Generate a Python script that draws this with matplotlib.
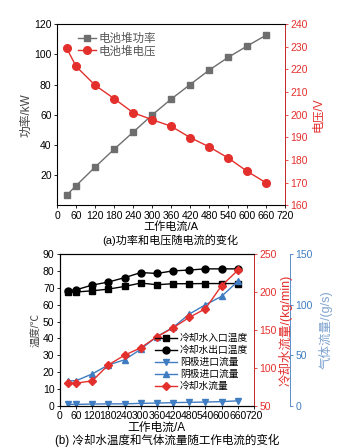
import matplotlib
matplotlib.use("Agg")
import matplotlib.pyplot as plt
import numpy as np

plt.rcParams['font.family'] = ['Liberation Sans', 'Noto Sans CJK SC']
plt.rcParams['axes.unicode_minus'] = False

RED = '#e3302d'
GRAY = '#6e6e6e'
BLUE = '#3f7cc2'

# (a) 功率和电压
current = [30, 60, 120, 180, 240, 300, 360, 420, 480, 540, 600, 660]
power = [6.6, 13, 25.3, 37.1, 48.4, 59.8, 70.3, 80, 89.5, 98, 105.5, 112.7]
voltage = [229.4, 221.3, 213, 207.1, 200.9, 197.8, 194.9, 189.9, 185.8, 180.9, 175, 169.9]

# (b) 冷却水温度和气体流量
t_in = [67.2, 67.5, 68.2, 69.2, 70.8, 72.8, 71.8, 72.4, 72.4, 72.5, 72.5, 72.5]
t_out = [68.0, 68.8, 71.6, 73.4, 76.0, 79.0, 78.5, 80.0, 80.5, 81.2, 81.2, 81.2]
anode = [1.5, 1.5, 1.8, 2.0, 2.0, 2.5, 2.8, 3.2, 3.5, 3.8, 4.2, 5.0]
cathode = [24.7, 24.9, 31.6, 40.5, 45.5, 56, 68.5, 77.5, 90.6, 99.9, 108.1, 122.9]
water = [79.9, 79.9, 83, 104, 116.8, 126.5, 141, 152.8, 166.5, 177.9, 208.2, 228.4]

xticks = list(range(0, 721, 60))

fig = plt.figure(figsize=(3.55, 4.48), dpi=100)
tfs = 7.5   # tick labels
lfs = 8.5   # axis labels

# ---- top chart
ax1 = fig.add_axes([0.161, 0.542, 0.642, 0.404])
l1, = ax1.plot(current, power, '-s', color=GRAY, ms=5, lw=1, label='电池堆功率')
ax1.set_xlim(0, 720)
ax1.set_ylim(0, 120)
ax1.set_xticks(xticks)
ax1.set_yticks([20, 40, 60, 80, 100, 120])
ax1.tick_params(labelsize=tfs, length=2.5, width=0.6, direction='out', pad=1.5)
ax1.set_ylabel('功率/kW', fontsize=lfs, color='#444444', labelpad=1)
ax1.set_xlabel('工作电流/A', fontsize=8, labelpad=0)
for s in ax1.spines.values():
    s.set_linewidth(0.6)

ax2 = ax1.twinx()
l2, = ax2.plot(current, voltage, '-o', color=RED, ms=5.5, lw=1, label='电池堆电压')
ax2.set_ylim(160, 240)
ax2.set_yticks(range(160, 241, 10))
ax2.tick_params(labelsize=tfs, length=2.5, width=0.6, colors=RED, pad=1.5)
ax2.spines['right'].set_color(RED)
ax2.spines['right'].set_linewidth(0.6)
ax2.set_ylabel('电压/V', fontsize=lfs, color=RED, labelpad=3)
ax1.legend(handles=[l1, l2], loc='upper left', bbox_to_anchor=(0.06, 0.99), frameon=False,
           fontsize=8.3, handlelength=1.6, handletextpad=0.2, labelspacing=0.05,
           borderaxespad=0.2, labelcolor='#555555')
fig.text(0.48, 0.463, '(a)功率和电压随电流的变化', ha='center', va='center', fontsize=8)

# ---- bottom chart
ax3 = fig.add_axes([0.169, 0.094, 0.546, 0.339])
h1, = ax3.plot(current, t_in, '-s', color='black', ms=5, lw=1, label='冷却水入口温度')
h2, = ax3.plot(current, t_out, '-o', color='black', ms=5, lw=1, label='冷却水出口温度')
ax3.set_xlim(0, 720)
ax3.set_ylim(0, 90)
ax3.set_xticks(xticks)
ax3.set_yticks(range(0, 91, 10))
ax3.tick_params(labelsize=tfs, length=2.5, width=0.6, pad=1.5)
ax3.set_ylabel('温度/℃', fontsize=7.5, color='#444444', labelpad=1)
ax3.set_xlabel('工作电流/A', fontsize=lfs, labelpad=0)
for s in ax3.spines.values():
    s.set_linewidth(0.6)

ax4 = ax3.twinx()
h5, = ax4.plot(current, water, '-D', color=RED, ms=4.5, lw=1, label='冷却水流量')
ax4.set_ylim(50, 250)
ax4.set_yticks(range(50, 251, 50))
ax4.tick_params(labelsize=tfs, length=2.5, width=0.6, colors=RED, pad=1.5)
ax4.spines['right'].set_color(RED)
ax4.spines['right'].set_linewidth(0.6)
ax4.set_ylabel('冷却水流量/(kg/min)', fontsize=9, color=RED)
ax4.yaxis.set_label_coords(1.13, 0.5)

ax5 = ax3.twinx()
ax5.spines['right'].set_position(('axes', 1.186))
h3, = ax5.plot(current, anode, '-v', color=BLUE, ms=5, lw=1, label='阳极进口流量')
h4, = ax5.plot(current, cathode, '-^', color=BLUE, ms=5, lw=1, label='阴极进口流量')
ax5.set_ylim(0, 150)
ax5.set_yticks(range(0, 151, 50))
ax5.tick_params(labelsize=tfs, length=2.5, width=0.6, colors=BLUE, pad=1.5)
ax5.spines['right'].set_color(BLUE)
ax5.spines['right'].set_linewidth(0.6)
ax5.set_ylabel('气体流量/(g/s)', fontsize=9, color='#7fa3cf')
ax5.yaxis.set_label_coords(1.335, 0.5)
ax4.set_zorder(ax5.get_zorder() + 1)
ax4.patch.set_visible(False)

ax4.legend(handles=[h1, h2, h3, h4, h5], loc='lower right', bbox_to_anchor=(1.0, 0.06),
           frameon=False, fontsize=7, handlelength=2.2, handletextpad=0.3,
           labelspacing=0.2, borderaxespad=0.2)
fig.text(0.47, 0.003, '(b) 冷却水温度和气体流量随工作电流的变化', ha='center', va='bottom',
         fontsize=8.3)

fig.savefig('out.png', dpi=100)
